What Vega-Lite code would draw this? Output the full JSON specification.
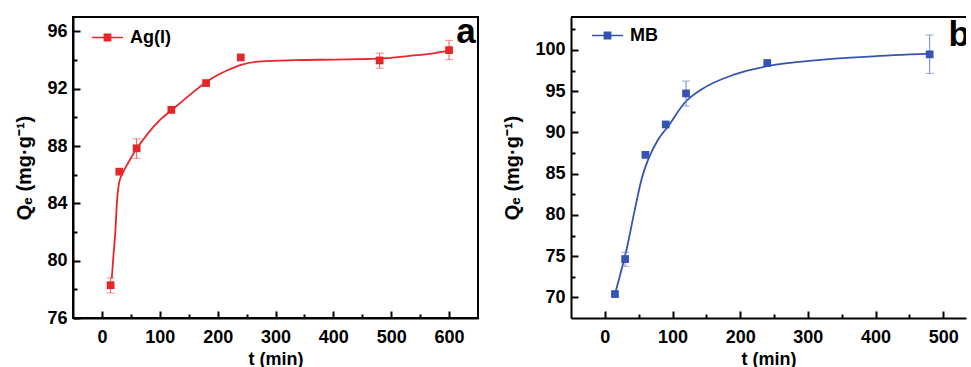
{
  "$schema": "https://vega.github.io/schema/vega-lite/v6.json",
  "autosize": {"type": "pad"},
  "padding": {"left": 13, "top": 14, "right": 0, "bottom": 0},
  "background": "white",
  "bounds": "flush",
  "spacing": 93,
  "config": {
    "view": {"stroke": "black", "strokeWidth": 2},
    "axis": {
      "grid": false,
      "domainColor": "black",
      "domainWidth": 2,
      "tickColor": "black",
      "tickWidth": 2,
      "labelFont": "Liberation Sans",
      "labelFontWeight": "bold",
      "labelFontSize": 18,
      "labelColor": "black",
      "labelFlush": false,
      "labelOverlap": false,
      "titleFont": "Liberation Sans",
      "titleFontWeight": "bold",
      "titleColor": "black"
    },
    "axisX": {"titleFontSize": 18},
    "axisY": {"titleFontSize": 20}
  },
  "datasets": {
    "agPts": [
      {"t": 15, "q": 78.29, "s": "Ag(I)"},
      {"t": 30, "q": 86.21, "s": "Ag(I)"},
      {"t": 60, "q": 87.84, "s": "Ag(I)"},
      {"t": 120, "q": 90.52, "s": "Ag(I)"},
      {"t": 180, "q": 92.39, "s": "Ag(I)"},
      {"t": 240, "q": 94.18, "s": "Ag(I)"},
      {"t": 480, "q": 93.97, "s": "Ag(I)"},
      {"t": 600, "q": 94.69, "s": "Ag(I)"}
    ],
    "agErr": [
      {"t": 15, "lo": 77.75, "hi": 78.8},
      {"t": 60, "lo": 87.14, "hi": 88.5},
      {"t": 480, "lo": 93.43, "hi": 94.48},
      {"t": 600, "lo": 94.02, "hi": 95.37}
    ],
    "agFit": [
      {"t": 17, "q": 78.75},
      {"t": 20, "q": 80.4},
      {"t": 23, "q": 81.9},
      {"t": 26, "q": 84.1},
      {"t": 30, "q": 85.5},
      {"t": 37, "q": 86.2},
      {"t": 45, "q": 86.8},
      {"t": 60, "q": 87.8},
      {"t": 80, "q": 88.9},
      {"t": 100, "q": 89.8},
      {"t": 121, "q": 90.52},
      {"t": 150, "q": 91.5},
      {"t": 178, "q": 92.39},
      {"t": 200, "q": 92.95},
      {"t": 219, "q": 93.32},
      {"t": 242, "q": 93.68},
      {"t": 276, "q": 93.9},
      {"t": 334, "q": 93.99},
      {"t": 400, "q": 94.03},
      {"t": 478, "q": 94.09},
      {"t": 535, "q": 94.3},
      {"t": 570, "q": 94.45},
      {"t": 600, "q": 94.65}
    ],
    "agLab": [{"t": 646, "q": 95.18, "lab": "a"}],
    "mbPts": [
      {"t": 15, "q": 70.4, "s": "MB"},
      {"t": 30, "q": 74.65, "s": "MB"},
      {"t": 60, "q": 87.28, "s": "MB"},
      {"t": 90, "q": 90.97, "s": "MB"},
      {"t": 120, "q": 94.73, "s": "MB"},
      {"t": 240, "q": 98.42, "s": "MB"},
      {"t": 480, "q": 99.47, "s": "MB"}
    ],
    "mbErr": [
      {"t": 30, "lo": 73.77, "hi": 75.47},
      {"t": 120, "lo": 93.2, "hi": 96.23},
      {"t": 480, "lo": 97.16, "hi": 101.82}
    ],
    "mbFit": [
      {"t": 15, "q": 70.4},
      {"t": 24.6, "q": 73.35},
      {"t": 32, "q": 75.78},
      {"t": 44.3, "q": 80.64},
      {"t": 54.2, "q": 84.3},
      {"t": 64, "q": 86.7},
      {"t": 78.8, "q": 89.14},
      {"t": 93.6, "q": 90.76},
      {"t": 118, "q": 93.6},
      {"t": 142.7, "q": 95.21},
      {"t": 192, "q": 97.04},
      {"t": 241.4, "q": 98.06},
      {"t": 315, "q": 98.78},
      {"t": 389, "q": 99.19},
      {"t": 480, "q": 99.55}
    ],
    "mbLab": [{"t": 508, "q": 100.49, "lab": "b"}],
    "mbTop": [{"q": 104}]
  },
  "hconcat": [
    {
      "width": 405,
      "height": 301,
      "encoding": {
        "x": {
          "field": "t", "type": "quantitative", "title": "t (min)",
          "scale": {"domain": [-50, 650], "nice": false, "zero": false},
          "axis": {
            "values": [0, 50, 100, 150, 200, 250, 300, 350, 400, 450, 500, 550, 600],
            "labelExpr": "datum.value % 100 == 0 ? datum.label : ''",
            "tickSize": {"condition": {"test": "datum.value % 100 != 0", "value": -4}, "value": -7},
            "labelPadding": 17,
            "titlePadding": 1
          }
        },
        "y": {
          "field": "q", "type": "quantitative", "title": "Qₑ (mg·g⁻¹)",
          "scale": {"domain": [76, 97], "nice": false, "zero": false},
          "axis": {
            "values": [76, 78, 80, 82, 84, 86, 88, 90, 92, 94, 96],
            "labelExpr": "datum.value % 4 == 0 ? datum.label : ''",
            "tickSize": {"condition": {"test": "datum.value % 4 != 0", "value": -4}, "value": -7},
            "labelPadding": 13,
            "titlePadding": 12
          }
        }
      },
      "layer": [
        {
          "data": {"name": "agFit"},
          "mark": {"type": "line", "interpolate": "monotone", "color": "#e8262a", "strokeWidth": 1.8}
        },
        {
          "data": {"name": "agErr"},
          "mark": {"type": "errorbar", "color": "#ec5a5a", "thickness": 1, "ticks": {"size": 8, "thickness": 1}},
          "encoding": {
            "y": {"field": "lo", "type": "quantitative", "title": "Qₑ (mg·g⁻¹)"},
            "y2": {"field": "hi"}
          }
        },
        {
          "data": {"name": "agPts"},
          "mark": {"type": "square", "size": 60, "opacity": 1},
          "encoding": {
            "color": {
              "field": "s", "type": "nominal",
              "scale": {"domain": ["Ag(I)"], "range": ["#e8262a"]},
              "legend": {
                "title": null, "orient": "none", "legendX": 18, "legendY": 4, "padding": 0,
                "symbolSize": 961,
                "symbolType": "M-1,0H1M-0.2,-0.2H0.2V0.2H-0.2Z",
                "symbolStrokeColor": "#e8262a",
                "symbolFillColor": "#e8262a",
                "symbolStrokeWidth": 1.6,
                "symbolOpacity": 1,
                "labelFont": "Liberation Sans", "labelFontWeight": "bold", "labelFontSize": 18, "labelColor": "black", "labelOffset": 6,
                "encode": {"symbols": {"update": {
                  "shape": {"value": "M-1,0H1M-0.2,-0.2H0.2V0.2H-0.2Z"},
                  "stroke": {"value": "#e8262a"}, "fill": {"value": "#e8262a"},
                  "strokeWidth": {"value": 1.6}, "opacity": {"value": 1}
                }}}
              }
            }
          }
        },
        {
          "data": {"name": "agLab"},
          "mark": {"type": "text", "align": "right", "baseline": "alphabetic", "font": "Liberation Sans", "fontWeight": "bold", "fontSize": 35, "color": "black"},
          "encoding": {"text": {"field": "lab"}}
        }
      ]
    },
    {
      "width": 395,
      "height": 301,
      "view": {"stroke": null},
      "encoding": {
        "x": {
          "field": "t", "type": "quantitative", "title": "t (min)",
          "scale": {"domain": [-50, 533.7], "nice": false, "zero": false},
          "axis": {
            "values": [0, 50, 100, 150, 200, 250, 300, 350, 400, 450, 500],
            "labelExpr": "datum.value % 100 == 0 ? datum.label : ''",
            "tickSize": {"condition": {"test": "datum.value % 100 != 0", "value": -4}, "value": -7},
            "labelPadding": 17,
            "titlePadding": 1
          }
        },
        "y": {
          "field": "q", "type": "quantitative", "title": "Qₑ (mg·g⁻¹)",
          "scale": {"domain": [67.5, 104], "nice": false, "zero": false},
          "axis": {
            "values": [70, 72.5, 75, 77.5, 80, 82.5, 85, 87.5, 90, 92.5, 95, 97.5, 100, 102.5],
            "labelExpr": "datum.value % 5 == 0 ? datum.label : ''",
            "tickSize": {"condition": {"test": "datum.value % 5 != 0", "value": -4}, "value": -7},
            "labelPadding": 13,
            "titlePadding": 12
          }
        }
      },
      "layer": [
        {
          "data": {"name": "mbTop"},
          "mark": {"type": "rule", "color": "black", "strokeWidth": 2},
          "encoding": {"x": null, "y": {"field": "q", "type": "quantitative", "title": "Qₑ (mg·g⁻¹)"}}
        },
        {
          "data": {"name": "mbFit"},
          "mark": {"type": "line", "interpolate": "monotone", "color": "#3553b3", "strokeWidth": 1.8}
        },
        {
          "data": {"name": "mbErr"},
          "mark": {"type": "errorbar", "color": "#6f84c8", "thickness": 1, "ticks": {"size": 8, "thickness": 1}},
          "encoding": {
            "y": {"field": "lo", "type": "quantitative", "title": "Qₑ (mg·g⁻¹)"},
            "y2": {"field": "hi"}
          }
        },
        {
          "data": {"name": "mbPts"},
          "mark": {"type": "square", "size": 60, "opacity": 1},
          "encoding": {
            "color": {
              "field": "s", "type": "nominal",
              "scale": {"domain": ["MB"], "range": ["#3553b3"]},
              "legend": {
                "title": null, "orient": "none", "legendX": 20, "legendY": 2, "padding": 0,
                "symbolSize": 961,
                "symbolType": "M-1,0H1M-0.2,-0.2H0.2V0.2H-0.2Z",
                "symbolStrokeColor": "#3553b3",
                "symbolFillColor": "#3553b3",
                "symbolStrokeWidth": 1.6,
                "symbolOpacity": 1,
                "labelFont": "Liberation Sans", "labelFontWeight": "bold", "labelFontSize": 18, "labelColor": "black", "labelOffset": 6,
                "encode": {"symbols": {"update": {
                  "shape": {"value": "M-1,0H1M-0.2,-0.2H0.2V0.2H-0.2Z"},
                  "stroke": {"value": "#3553b3"}, "fill": {"value": "#3553b3"},
                  "strokeWidth": {"value": 1.6}, "opacity": {"value": 1}
                }}}
              }
            }
          }
        },
        {
          "data": {"name": "mbLab"},
          "mark": {"type": "text", "align": "left", "baseline": "alphabetic", "font": "Liberation Sans", "fontWeight": "bold", "fontSize": 35, "color": "black", "clip": true},
          "encoding": {"text": {"field": "lab"}}
        }
      ]
    }
  ],
  "resolve": {"scale": {"color": "independent"}}
}
